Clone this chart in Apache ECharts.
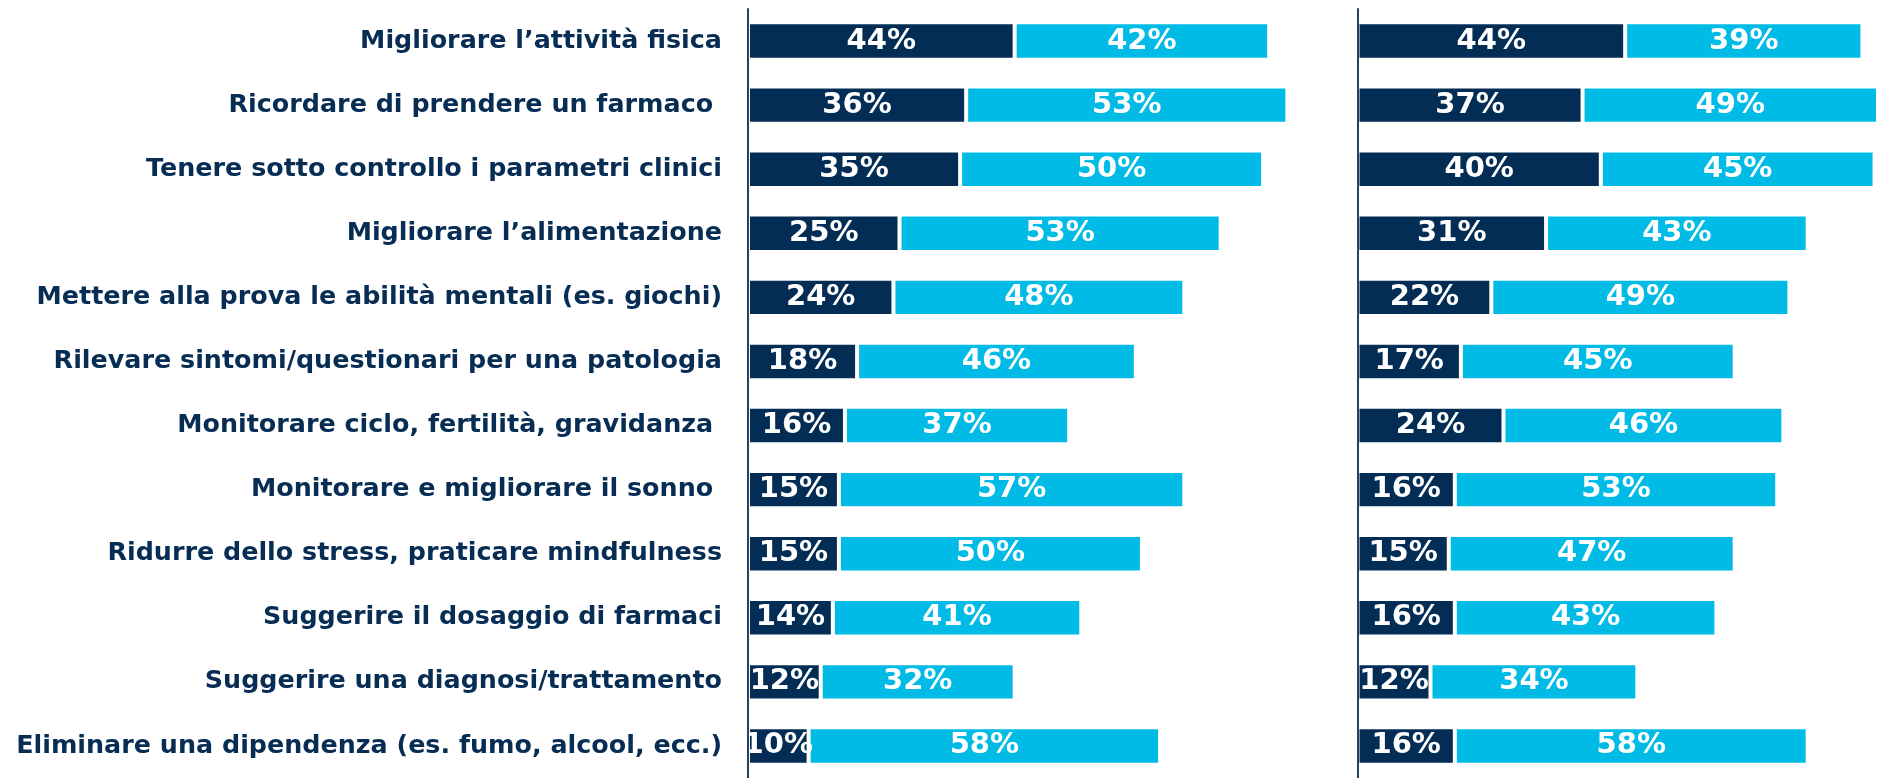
<!DOCTYPE html>
<html lang="it">
<head>
<meta charset="utf-8">
<title>Utilizzo app salute</title>
<script src="https://cdn.jsdelivr.net/npm/echarts@6/dist/echarts.min.js"></script>
<style>
  html, body { margin: 0; padding: 0; background: #fff; }
  #chart { width: 1877px; height: 778px; }
</style>
</head>
<body>
<div id="chart"></div>
<script>
// categories, top to bottom
const categories = [
  'Migliorare l\u2019attività fisica',
  'Ricordare di prendere un farmaco ',
  'Tenere sotto controllo i parametri clinici',
  'Migliorare l\u2019alimentazione',
  'Mettere alla prova le abilità mentali (es. giochi)',
  'Rilevare sintomi/questionari per una patologia',
  'Monitorare ciclo, fertilità, gravidanza ',
  'Monitorare e migliorare il sonno ',
  'Ridurre dello stress, praticare mindfulness',
  'Suggerire il dosaggio di farmaci',
  'Suggerire una diagnosi/trattamento',
  'Eliminare una dipendenza (es. fumo, alcool, ecc.)'
];

// left panel
const leftDark  = [44, 36, 35, 25, 24, 18, 16, 15, 15, 14, 12, 10];
const leftLight = [42, 53, 50, 53, 48, 46, 37, 57, 50, 41, 32, 58];

// right panel
const rightDark  = [44, 37, 40, 31, 22, 17, 24, 16, 15, 16, 12, 16];
const rightLight = [39, 49, 45, 43, 49, 45, 46, 53, 47, 43, 34, 58];

const DARK = '#032d55';
const LIGHT = '#00bbe6';
const FONT = '"DejaVu Sans"';

const chart = echarts.init(document.getElementById('chart'));

function barSeries(data, color, idx) {
  return {
    type: 'bar',
    stack: 'p' + idx,
    xAxisIndex: idx,
    yAxisIndex: idx,
    data: data,
    barWidth: 37.4,
    // white border is drawn inside the bar, it makes the small gap between segments
    itemStyle: { color: color, borderColor: '#fff', borderWidth: 2 },
    label: {
      show: true,
      position: 'inside',
      formatter: '{c}%',
      color: '#fff',
      fontFamily: FONT,
      fontWeight: 'bold',
      fontSize: 29
    }
  };
}

const yBase = {
  type: 'category',
  data: categories,
  inverse: true,
  z: 5,
  axisTick: { show: false },
  axisLine: { show: true, lineStyle: { color: '#26405f', width: 2 } }
};

// both panels use ~6.06 px per percent point; the right one is cut by the page edge
chart.setOption({
  animation: false,
  grid: [
    { left: 748, top: 9, width: 606, height: 771 },
    { left: 1357.5, top: 9, right: 0, height: 771 }
  ],
  xAxis: [
    { type: 'value', min: 0, max: 100, show: false, gridIndex: 0 },
    { type: 'value', min: 0, max: 85.4, show: false, gridIndex: 1 }
  ],
  yAxis: [
    Object.assign({}, yBase, {
      gridIndex: 0,
      axisLabel: {
        margin: 26,
        color: '#072d55',
        fontFamily: FONT,
        fontWeight: 'bold',
        fontSize: 25.4
      }
    }),
    Object.assign({}, yBase, { gridIndex: 1, axisLabel: { show: false } })
  ],
  series: [
    barSeries(leftDark, DARK, 0),
    barSeries(leftLight, LIGHT, 0),
    barSeries(rightDark, DARK, 1),
    barSeries(rightLight, LIGHT, 1)
  ]
});
</script>
</body>
</html>
